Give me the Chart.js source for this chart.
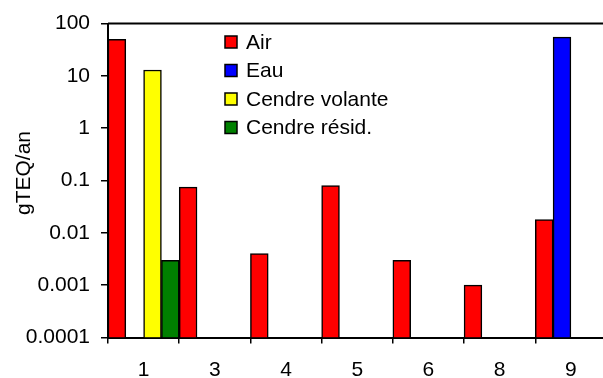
<!doctype html>
<html lang="fr">
<head>
<meta charset="utf-8">
<title>gTEQ/an</title>
<script src="https://cdn.jsdelivr.net/npm/chart.js@4/dist/chart.umd.min.js"></script>
<style>
    html, body { margin: 0; padding: 0; background: #fff; overflow: hidden; width: 603px; height: 378px; }
    #wrap { position: relative; width: 620px; height: 378px; }
</style>
</head>
<body>
<div id="wrap"><canvas id="chart" width="620" height="378"></canvas></div>
<script>
    // données
    const categories = ['1', '3', '4', '5', '6', '8', '9'];
    const air = [50, 0.075, 0.004, 0.08, 0.003, 0.001, 0.018];
    const eau = [null, null, null, null, null, null, 55];
    const cendreVolante = [13, null, null, null, null, null, null];
    const cendreResid = [0.003, null, null, null, null, null, null];
    const yTicks = [0.0001, 0.001, 0.01, 0.1, 1, 10, 100];
    const yTitle = 'gTEQ/an';

    const FONT = 'Liberation Sans, Arial, sans-serif';

    // légende dans la zone du graphique, titre de l'axe y et bord supérieur
    const innerLegend = {
        id: 'innerLegend',
        afterDraw(chart) {
            const ctx = chart.ctx;
            const area = chart.chartArea;
            ctx.save();
            ctx.strokeStyle = '#000';
            ctx.lineWidth = 2;
            ctx.beginPath();
            ctx.moveTo(area.left, area.top);
            ctx.lineTo(area.right, area.top);
            ctx.stroke();

            ctx.font = '21px ' + FONT;
            ctx.textBaseline = 'middle';
            ctx.textAlign = 'left';
            chart.data.datasets.forEach((ds, i) => {
                const y = 42 + i * 28.5;
                ctx.fillStyle = ds.backgroundColor;
                ctx.fillRect(225, y - 6, 12, 12);
                ctx.lineWidth = 1.5;
                ctx.strokeRect(225, y - 6, 12, 12);
                ctx.fillStyle = '#000';
                ctx.fillText(ds.label, 246, y + 1);
            });

            // titre de l'axe y
            ctx.translate(24, 173);
            ctx.rotate(-Math.PI / 2);
            ctx.textAlign = 'center';
            ctx.fillText(yTitle, 0, 0);
            ctx.restore();
        }
    };

    new Chart(document.getElementById('chart'), {
        type: 'bar',
        data: {
            labels: categories,
            datasets: [
                {label: 'Air', data: air, backgroundColor: '#FF0000'},
                {label: 'Eau', data: eau, backgroundColor: '#0000FF'},
                {label: 'Cendre volante', data: cendreVolante, backgroundColor: '#FFFF00'},
                {label: 'Cendre résid.', data: cendreResid, backgroundColor: '#008000'}
            ].map(d => Object.assign(d, {
                borderColor: '#000',
                borderWidth: 1.5,
                borderSkipped: 'bottom',
                categoryPercentage: 1,
                barPercentage: 1
            }))
        },
        options: {
            responsive: false,
            animation: false,
            devicePixelRatio: 1,
            layout: {padding: {left: 0, right: 13.5, top: 23.5, bottom: 0}},
            plugins: {
                legend: {display: false},
                tooltip: {enabled: false}
            },
            scales: {
                x: {
                    grid: {
                        offset: true,
                        drawOnChartArea: false,
                        drawTicks: true,
                        tickLength: 6,
                        color: '#000',
                        lineWidth: 1.5
                    },
                    border: {color: '#000', width: 2},
                    ticks: {
                        color: '#000',
                        padding: 14,
                        font: {family: FONT, size: 21}
                    },
                    afterFit(scale) { scale.height = 40.5; }
                },
                y: {
                    type: 'logarithmic',
                    min: 0.0001,
                    max: 100,
                    grid: {
                        drawOnChartArea: false,
                        drawTicks: true,
                        tickLength: 7,
                        color: '#000',
                        lineWidth: 1.5
                    },
                    border: {color: '#000', width: 2},
                    ticks: {
                        color: '#000',
                        padding: 11,
                        font: {family: FONT, size: 21},
                        callback: v => String(v)
                    },
                    afterBuildTicks(scale) {
                        scale.ticks = yTicks.map(v => ({value: v}));
                    },
                    afterFit(scale) { scale.width = 108; }
                }
            }
        },
        plugins: [innerLegend]
    });
</script>
</body>
</html>
